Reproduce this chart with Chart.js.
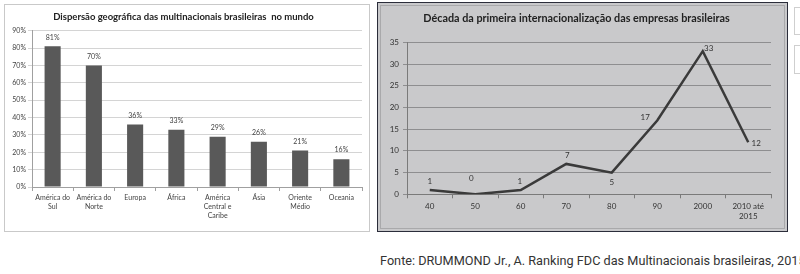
<!DOCTYPE html>
<html><head><meta charset="utf-8">
<script src="https://cdn.jsdelivr.net/npm/chart.js@4.4.0/dist/chart.umd.min.js"></script>
<style>
html,body{margin:0;padding:0;background:#fff;width:800px;height:274px;overflow:hidden;position:relative;}
#box1{position:absolute;left:4px;top:4px;width:364px;height:226px;border:1px solid #c9c9c9;background:#fff;}
#c1{position:absolute;left:5px;top:5px;}
#box2{position:absolute;left:377px;top:2px;width:409px;height:228px;border:1.5px solid #2b2d3a;background:#c9c9cb;}
#inner2{position:absolute;left:380px;top:5px;width:403px;height:222px;border:1px solid #a9a9ab;}
#c2{position:absolute;left:382px;top:6px;}
#src{position:absolute;left:380px;top:253px;font-family:Roboto,sans-serif;font-size:12.7px;color:#333;white-space:nowrap;}
.ic{position:absolute;left:794px;width:10px;border:1px solid #cfcfcf;background:#fff;}
</style></head>
<body>
<div id="box1"></div>
<canvas id="c1" width="363" height="225"></canvas>
<div id="box2"></div>
<div id="inner2"></div>
<canvas id="c2" width="400" height="222"></canvas>
<div class="ic" style="top:7px;height:26px"></div>
<div class="ic" style="top:45px;height:27px"></div>
<div id="src">Fonte: DRUMMOND Jr., A. Ranking FDC das Multinacionais brasileiras, 2015</div>
<script>
// ---- Data ----
const regions = [["América do","Sul"],["América do","Norte"],["Europa"],["África"],["América","Central e","Caribe"],["Ásia"],["Oriente","Médio"],["Oceania"]];
const regionShare = [81,70,36,33,29,26,21,16];
const pctTicks = [0,10,20,30,40,50,60,70,80,90];

const decades = [["40"],["50"],["60"],["70"],["80"],["90"],["2000"],["2010 até","2015"]];
const firstIntl = [1,0,1,7,5,17,33,12];
const countTicks = [0,5,10,15,20,25,30,35];
// label offsets relative to each point (style)
const lineLabelOffsets = [[0,-9],[-4,-16],[-1,-9],[1,-9],[0,10],[-12,-3],[6,-3],[8,1]];

const FONT = "Lato, 'Liberation Sans', sans-serif";
Chart.defaults.font.family = FONT;
Chart.defaults.animation = false;

const barLabels = {
  id:'barLabels',
  afterDatasetsDraw(chart){
    const ctx = chart.ctx; const meta = chart.getDatasetMeta(0);
    ctx.save(); ctx.font = "7px " + FONT; ctx.fillStyle = "#444";
    ctx.textAlign = "center"; ctx.textBaseline = "middle";
    meta.data.forEach((el,i)=>{ ctx.fillText(regionShare[i] + "%", el.x, el.y - 9); });
    ctx.restore();
  }
};
const lineLabels = {
  id:'lineLabels',
  afterDatasetsDraw(chart){
    const ctx = chart.ctx; const meta = chart.getDatasetMeta(0);
    ctx.save(); ctx.font = "8px " + FONT; ctx.fillStyle = "#333";
    ctx.textAlign = "center"; ctx.textBaseline = "middle";
    meta.data.forEach((el,i)=>{ const o = lineLabelOffsets[i]; ctx.fillText(String(firstIntl[i]), el.x + o[0], el.y + o[1]); });
    ctx.restore();
  }
};

new Chart(document.getElementById('c1'), {
  type:'bar',
  data:{ labels: regions, datasets:[{ data: regionShare, backgroundColor:'#595959', borderWidth:0, categoryPercentage:1, barPercentage:0.39 }]},
  options:{
    responsive:false,
    layout:{padding:{left:0,right:6,top:0,bottom:0}},
    plugins:{ legend:{display:false}, tooltip:{enabled:false},
      title:{display:true, text:'Dispersão geográfica das multinacionais brasileiras  no mundo', color:'#222', font:{size:9.5, weight:'bold', lineHeight:1.2}, padding:{top:6.3,bottom:8}} },
    scales:{
      x:{ grid:{display:true, drawOnChartArea:false, drawTicks:true, tickLength:4, offset:true, color:'#a0a0a0'},
          border:{display:true, color:'#a0a0a0'},
          ticks:{ color:'#444', font:{size:7, lineHeight:1.3}, padding:2, maxRotation:0, autoSkip:false },
          afterFit(s){ s.height = 43; } },
      y:{ min:0, max:90, afterBuildTicks(s){ s.ticks = pctTicks.map(v=>({value:v})); },
          grid:{ color:'#d4d4d4', tickLength:4, drawTicks:true },
          border:{display:true, color:'#a0a0a0'},
          ticks:{ color:'#444', font:{size:7}, padding:2, callback:v=>v+'%' },
          afterFit(s){ s.width = 27; } }
    }
  },
  plugins:[barLabels]
});

new Chart(document.getElementById('c2'), {
  type:'line',
  data:{ labels: decades, datasets:[{ data:firstIntl, borderColor:'#3a3a3a', borderWidth:2.5, pointRadius:0, tension:0, fill:false }]},
  options:{
    responsive:false,
    layout:{padding:{left:0,right:11,top:0,bottom:0}},
    plugins:{ legend:{display:false}, tooltip:{enabled:false},
      title:{display:true, text:'Década da primeira internacionalização das empresas brasileiras', color:'#222', font:{size:10.8, weight:'bold', lineHeight:1.2}, padding:{top:6.5,bottom:17}} },
    scales:{
      x:{ offset:true,
          grid:{display:true, drawOnChartArea:false, drawTicks:true, tickLength:4, offset:true, color:'#7a7a7a'},
          border:{display:true, color:'#7a7a7a'},
          ticks:{ color:'#333', font:{size:8, lineHeight:1.3}, padding:3, maxRotation:0, autoSkip:false },
          afterFit(s){ s.height = 33.7; } },
      y:{ min:0, max:35, afterBuildTicks(s){ s.ticks = countTicks.map(v=>({value:v})); },
          grid:{ color:'#8e8e90', tickLength:4, drawTicks:true },
          border:{display:true, color:'#7a7a7a'},
          ticks:{ color:'#333', font:{size:8}, padding:4 },
          afterFit(s){ s.width = 25; } }
    }
  },
  plugins:[lineLabels]
});
</script>
</body></html>
